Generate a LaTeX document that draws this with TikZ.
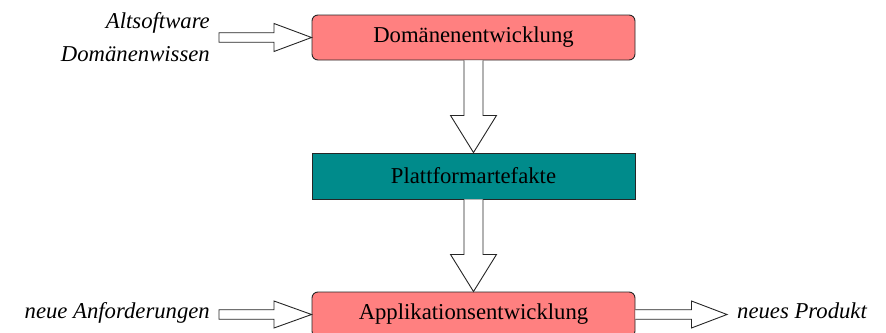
\documentclass[tikz,border=0pt]{standalone}
\usepackage{fontspec}
\setmainfont{Liberation Serif}
\usetikzlibrary{calc}
\definecolor{boxpink}{RGB}{255,128,128}
\definecolor{boxteal}{RGB}{0,139,139}
\begin{document}
\begin{tikzpicture}[x=1pt,y=-1pt,
  font=\fontsize{22.7}{27}\selectfont,
  proc/.style={draw=black!85,line width=0.9pt,rounded corners=6pt,fill=boxpink,minimum width=323pt,minimum height=45pt,inner sep=0pt},
  artf/.style={draw=black!85,line width=0.9pt,fill=boxteal,minimum width=323pt,minimum height=46pt,inner sep=0pt},
  lbl/.style={font=\fontsize{22.7}{27}\selectfont\itshape,inner sep=0pt},
  fat/.style={draw=black!85,line width=0.9pt,fill=white}]
\useasboundingbox (0,0) rectangle (886,332);
\node[proc] (dom) at (473.5,37.5) {Domänenentwicklung};
\node[artf] (pla) at (473.5,176) {Plattformartefakte};
\node[proc] (app) at (473.5,314.5) {Applikationsentwicklung};
\node[lbl,anchor=base east] (alt) at (210,28) {Altsoftware};
\node[lbl,anchor=base east] (dw) at (210,61) {Domänenwissen};
\node[lbl,anchor=base east] (na) at (210,318) {neue Anforderungen};
\node[lbl,anchor=base west] (np) at (737,318) {neues Produkt};
\coordinate (in1) at (219,37.5);
\coordinate (in2) at (219,314.5);
\coordinate (out) at (727,314.5);
% vertical fat arrows
\draw[fat] ($(dom.south)+(-9.5,0)$) -- ++(0,55) -- ++(-13.5,0) -- ($(pla.north)$) -- ($(dom.south)+(23,55)$) -- ++(-13.5,0) -- ($(dom.south)+(9.5,0)$);
\draw[fat] ($(pla.south)+(-9.5,0)$) -- ++(0,55) -- ++(-13.5,0) -- ($(app.north)$) -- ($(pla.south)+(23,55)$) -- ++(-13.5,0) -- ($(pla.south)+(9.5,0)$);
% horizontal fat arrows
\draw[fat] ($(in1)+(0,-4.75)$) -- ($(in1)+(55,-4.75)$) -- ($(in1)+(55,-14)$) -- (dom.west) -- ($(in1)+(55,14)$) -- ($(in1)+(55,4.75)$) -- ($(in1)+(0,4.75)$) -- cycle;
\draw[fat] ($(in2)+(0,-4.75)$) -- ($(in2)+(55,-4.75)$) -- ($(in2)+(55,-13.5)$) -- (app.west) -- ($(in2)+(55,13.5)$) -- ($(in2)+(55,4.75)$) -- ($(in2)+(0,4.75)$) -- cycle;
\draw[fat] ($(app.east)+(0,-4.75)$) -- ($(app.east)+(56,-4.75)$) -- ($(app.east)+(56,-13.5)$) -- (out) -- ($(app.east)+(56,13.5)$) -- ($(app.east)+(56,4.75)$) -- ($(app.east)+(0,4.75)$);
\end{tikzpicture}
\end{document}
